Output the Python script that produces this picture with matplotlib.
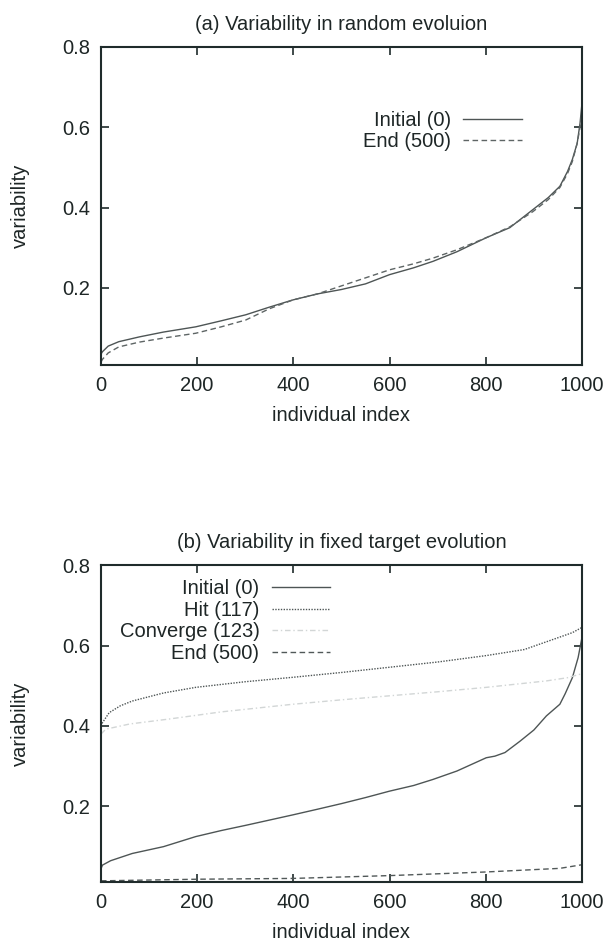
import matplotlib
matplotlib.use("Agg")
import matplotlib.pyplot as plt

plt.rcParams['font.family'] = ['Liberation Sans', 'DejaVu Sans']

# ---------------- data (a) ----------------
a_x = [0, 3, 15, 37, 80, 130, 197, 250, 301, 350, 399, 450, 500, 550, 600, 650,
       690, 740, 801, 850, 898, 930, 954, 970, 980, 990, 996, 1000]
a_initial = [0.035, 0.041, 0.055, 0.066, 0.078, 0.090, 0.103, 0.118, 0.133, 0.152,
             0.170, 0.185, 0.196, 0.210, 0.233, 0.250, 0.266, 0.290, 0.325, 0.350,
             0.395, 0.425, 0.453, 0.490, 0.520, 0.560, 0.610, 0.660]
a_end = [0.015, 0.022, 0.038, 0.053, 0.065, 0.075, 0.087, 0.103, 0.120, 0.148,
         0.170, 0.185, 0.205, 0.225, 0.245, 0.260, 0.274, 0.295, 0.325, 0.352,
         0.390, 0.420, 0.450, 0.485, 0.515, 0.560, 0.600, 0.640]

# ---------------- data (b) ----------------
b_init_x = [0, 3, 20, 65, 130, 197, 250, 301, 350, 399, 450, 500, 550, 600, 650,
            690, 740, 801, 819, 840, 871, 900, 926, 954, 965, 980, 992, 1000]
b_initial = [0.045, 0.054, 0.065, 0.083, 0.100, 0.125, 0.140, 0.153, 0.166, 0.179,
             0.193, 0.207, 0.222, 0.238, 0.252, 0.267, 0.288, 0.321, 0.325, 0.334,
             0.362, 0.390, 0.425, 0.454, 0.480, 0.520, 0.570, 0.620]
b_hit_x = [0, 3, 17, 40, 65, 130, 197, 300, 399, 500, 600, 700, 801, 880, 954, 980, 1000]
b_hit = [0.400, 0.408, 0.433, 0.450, 0.462, 0.482, 0.496, 0.510, 0.521, 0.533,
         0.546, 0.559, 0.575, 0.590, 0.621, 0.632, 0.645]
b_conv_x = [0, 10, 60, 140, 250, 399, 500, 600, 700, 801, 926, 970, 1000]
b_converge = [0.380, 0.392, 0.405, 0.417, 0.435, 0.454, 0.465, 0.475, 0.485,
              0.496, 0.512, 0.520, 0.530]
b_end_x = [0, 100, 200, 399, 600, 800, 954, 1000]
b_end = [0.015, 0.017, 0.019, 0.021, 0.028, 0.037, 0.046, 0.055]

titles = ["(a) Variability in random evoluion",
          "(b) Variability in fixed target evolution"]
xticks = [0, 200, 400, 600, 800, 1000]
yticks = [0.2, 0.4, 0.6, 0.8]

FS = 14.5
TXT = '#1e2626'
FRAME = '#1f2b2b'

fig = plt.figure(figsize=(6.08, 9.47), dpi=100)
ax1 = fig.add_axes([0.1661, 0.6146, 0.7911, 0.3358])
ax2 = fig.add_axes([0.1661, 0.0686, 0.7911, 0.3347])

ax1.plot(a_x, a_initial, color='#4e5555', lw=1.0, ls='-', label='Initial (0)')
ax1.plot(a_x, a_end, color='#5e6565', lw=1.0, ls=(0, (4, 2.5)), label='End (500)')

ax2.plot(b_init_x, b_initial, color='#4e5555', lw=1.0, ls='-', label='Initial (0)')
ax2.plot(b_hit_x, b_hit, color='#4e5555', lw=1.0, ls=(0, (1, 1)), label='Hit (117)')
ax2.plot(b_conv_x, b_converge, color='#d2d6d6', lw=1.0, ls=(0, (4, 2, 1, 2)), label='Converge (123)')
ax2.plot(b_end_x, b_end, color='#515858', lw=1.0, ls=(0, (4, 2.5)), label='End (500)')

for ax, title, ylo in [(ax1, titles[0], 0.008), (ax2, titles[1], 0.012)]:
    ax.set_xlim(0, 1000)
    ax.set_ylim(ylo, 0.8)
    ax.set_xticks(xticks)
    ax.set_yticks(yticks)
    ax.set_xticklabels([str(t) for t in xticks])
    ax.set_yticklabels(['%.1f' % t for t in yticks])
    ax.tick_params(direction='in', length=6, width=1.2, color=FRAME,
                   top=True, right=True, labelsize=FS, labelcolor=TXT, pad=8)
    for s in ax.spines.values():
        s.set_color(FRAME)
        s.set_linewidth(1.5)
    ax.set_title(title, fontsize=FS, color=TXT, pad=12)
    ax.set_xlabel('individual index', fontsize=FS, color=TXT, labelpad=8)
    ax.set_ylabel('variability', fontsize=FS, color=TXT, labelpad=23)

common = dict(frameon=False, markerfirst=False, fontsize=FS, handlelength=2.9,
              handletextpad=0.6, borderpad=0, borderaxespad=0, labelspacing=0.12,
              labelcolor=TXT)
ax1.legend(loc='upper right', bbox_to_anchor=(0.875, 0.80), **common)
ax2.legend(loc='upper right', bbox_to_anchor=(0.476, 0.955), **common)

fig.savefig('out.png', dpi=100)
